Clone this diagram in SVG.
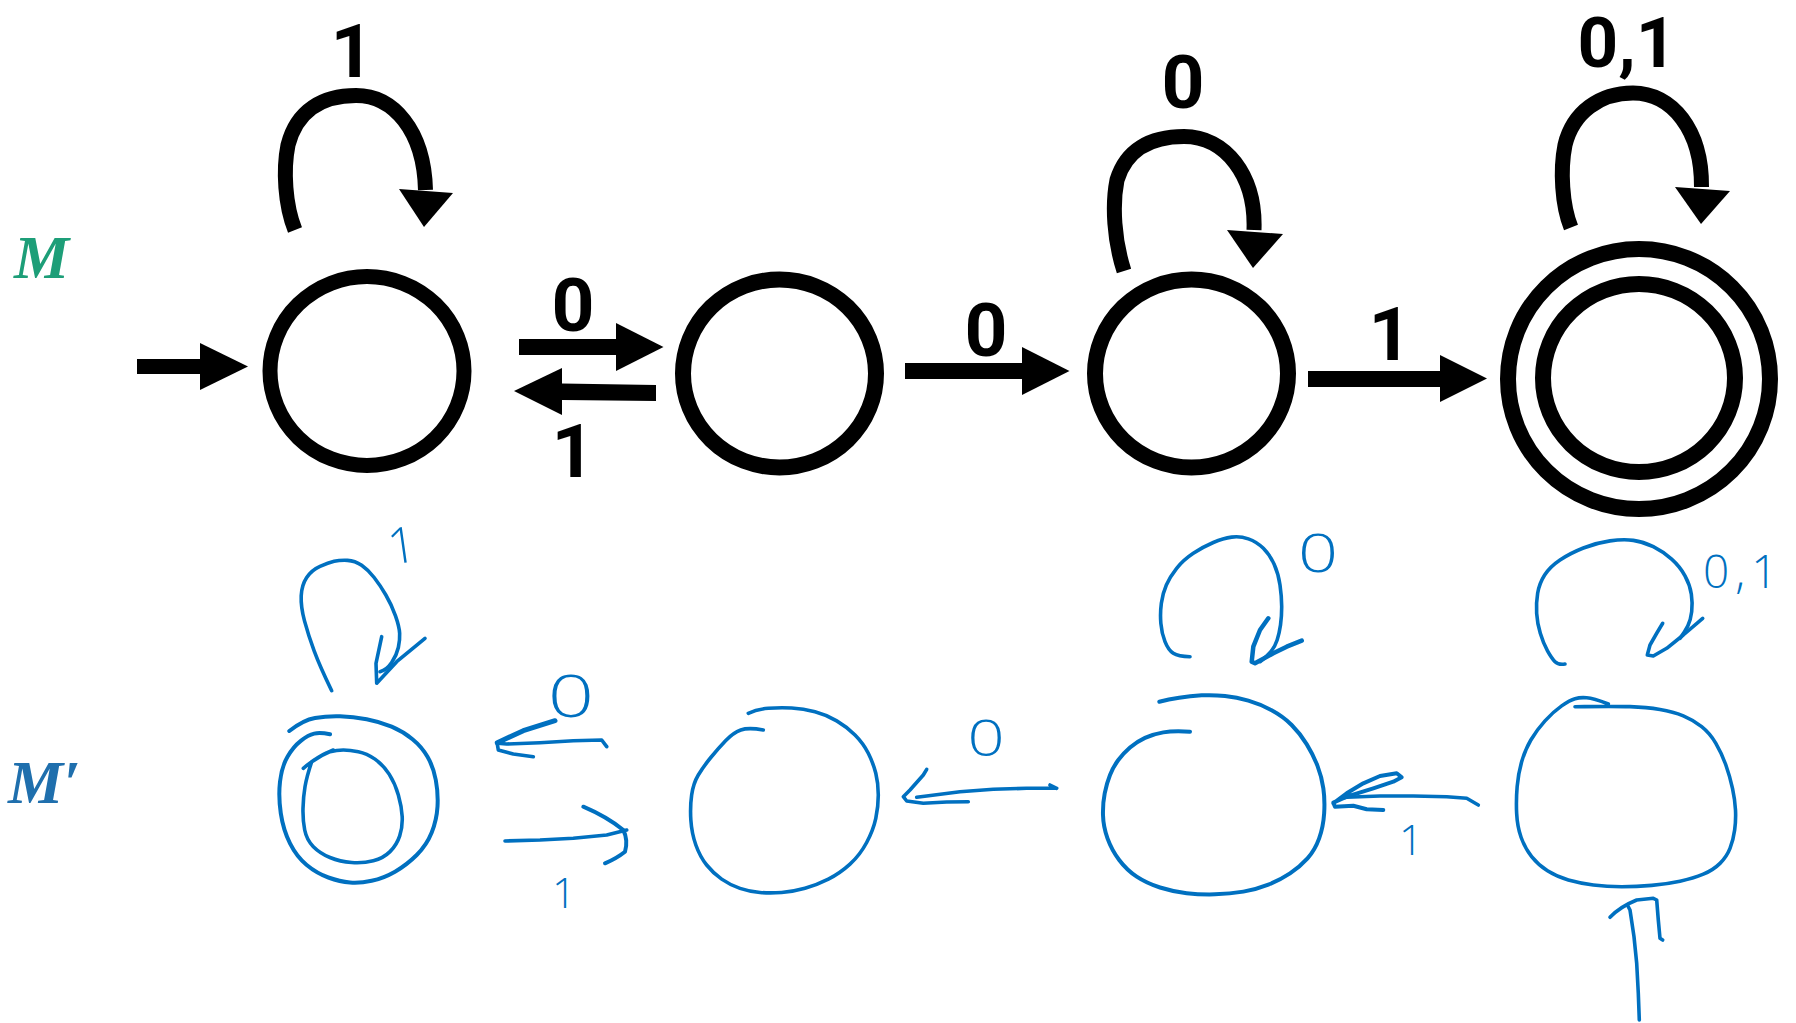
<svg xmlns="http://www.w3.org/2000/svg" width="1796" height="1023" viewBox="0 0 1796 1023">
<defs>
<style>
.st{fill:none;stroke:#000;stroke-width:15}
.fill{fill:#000;stroke:none}
.lbl{font-size:75px;fill:#000}
.ink{fill:none;stroke:#0070C0;stroke-width:3.6;stroke-linecap:round;stroke-linejoin:round}
.inkt{fill:#0070C0}
.name{font-style:italic;font-weight:bold;font-size:62px}
</style>
</defs>
<rect width="1796" height="1023" fill="#fff"/>

<!-- titles -->
<text class="name" font-family="Liberation Serif, Times New Roman, serif" x="14" y="278" fill="#1d9e78">M</text>
<text class="name" font-family="Liberation Serif, Times New Roman, serif" x="8" y="803" fill="#1f6fad">M′</text>

<!-- ===== M (top) nodes ===== -->
<g id="m-q0"><ellipse class="st" cx="367" cy="371" rx="97" ry="94.5"/></g>
<g id="m-q1"><ellipse class="st" cx="779.5" cy="373.5" rx="96.5" ry="94" style="stroke-width:16"/></g>
<g id="m-q2"><ellipse class="st" cx="1191.5" cy="373.5" rx="96.5" ry="94" style="stroke-width:16"/></g>
<g id="m-q3">
<ellipse class="st" cx="1639" cy="379" rx="131" ry="130" style="stroke-width:16"/>
<ellipse class="st" cx="1639" cy="378" rx="96" ry="94" style="stroke-width:16"/>
</g>

<!-- ===== M connectors ===== -->
<g id="m-edges" font-family="Roboto, Noto Sans, sans-serif" font-weight="700">
<g id="m-start">
<rect class="fill" x="137" y="359" width="63" height="15"/>
<polygon class="fill" points="200,343 248,366.5 200,390"/>
</g>
<g id="m-loop0">
<path class="st" d="M295,230 C285,205 283,170 288,145 C297,110 323,95.5 356,95.5 C393,95.5 424,130 425.5,190"/>
<polygon class="fill" points="399,189 453,193 424,227"/>
<text class="lbl" x="352" y="77" text-anchor="middle">1</text>
</g>
<g id="m-e01">
<rect class="fill" x="519" y="339" width="97" height="16"/>
<polygon class="fill" points="616,323 663.5,347 616,371"/>
<text class="lbl" x="573" y="331" text-anchor="middle">0</text>
</g>
<g id="m-e10">
<polygon class="fill" points="562,383.5 656,385 656,401 562,400"/>
<polygon class="fill" points="562,368 514,391 562,415"/>
<text class="lbl" x="573" y="477" text-anchor="middle">1</text>
</g>
<g id="m-e12">
<rect class="fill" x="905" y="363" width="117" height="16"/>
<polygon class="fill" points="1022,347 1069.5,371 1022,395"/>
<text class="lbl" x="986" y="356" text-anchor="middle">0</text>
</g>
<g id="m-loop2">
<path class="st" d="M1124,271 C1114,240 1112,205 1117,180 C1126,150 1150,136.5 1184,136.5 C1225,136.5 1256,175 1254,230"/>
<polygon class="fill" points="1227,230 1283,234 1253,268"/>
<text class="lbl" x="1183" y="108" text-anchor="middle">0</text>
</g>
<g id="m-e23">
<rect class="fill" x="1308" y="371" width="132" height="16"/>
<polygon class="fill" points="1440,355 1487,378.5 1440,402"/>
<text class="lbl" x="1390" y="360" text-anchor="middle">1</text>
</g>
<g id="m-loop3">
<path class="st" d="M1571,227.5 C1562,205 1560,170 1565,145 C1573,112 1600,93 1633,93 C1672,93 1702,130 1701.5,187"/>
<polygon class="fill" points="1675,187 1730,191 1701,224"/>
<text class="lbl" x="1627" y="67" text-anchor="middle" style="font-size:71px">0,1</text>
</g>
</g>

<!-- ===== M' (bottom, hand-drawn) nodes ===== -->
<g id="mp-q0">
<path class="ink" style="stroke-width:4" d="M289.3,731 Q303.3,720 315,718 Q326.7,716 340,716.35 Q353.3,716.7 366.65,719.2 Q380,721.7 391.65,726.7 Q403.3,731.7 412.5,739.2 Q421.7,746.7 427.5,756.7 Q433.3,766.7 435.8,780 Q438.3,793.3 437.5,806.65 Q436.7,820 431.7,832.5 Q426.7,845 416.7,855 Q406.7,865 395,871.65 Q383.3,878.3 371.65,880.8 Q360,883.3 350,882.5 Q340,881.7 328.35,877.5 Q316.7,873.3 306.7,865 Q296.7,856.7 290,843.35 Q283.3,830 280.8,813.35 Q278.3,796.7 280,781.7 Q281.7,766.7 287.5,756.7 Q293.3,746.7 300.8,740.85 Q308.3,735 314.15,733.65 Q320,732.3 330,734.3"/>
<path class="ink" d="M303.3,768.3 Q316.7,756.7 333.3,750 M311.7,761.7 Q323.3,753.3 330,751.65 Q336.7,750 343.35,750 Q350,750 358.35,751.65 Q366.7,753.3 375,759.15 Q383.3,765 389.15,774.15 Q395,783.3 398.35,795 Q401.7,806.7 402.2,816.7 Q402.7,826.7 399.7,835.85 Q396.7,845 390,851.65 Q383.3,858.3 373.3,860.8 Q363.3,863.3 351.65,862.5 Q340,861.7 330,857.5 Q320,853.3 313.35,846.65 Q306.7,840 304.7,830 Q302.7,820 303,808.35 Q303.3,796.7 305,786.7 Q306.7,776.7 311.7,761.7"/>
</g>
<g id="mp-q1">
<path class="ink" d="M748.3,713.3 Q756.7,709.3 768.35,708.3 Q780,707.3 791.65,708 Q803.3,708.7 815,711.85 Q826.7,715 836.7,720.85 Q846.7,726.7 855,735 Q863.3,743.3 868.3,753.3 Q873.3,763.3 875.8,773.3 Q878.3,783.3 878.3,795 Q878.3,806.7 875.8,818.35 Q873.3,830 866.65,842.5 Q860,855 850,864.15 Q840,873.3 828.35,879.15 Q816.7,885 805,888.35 Q793.3,891.7 781.65,892.5 Q770,893.3 760,892.5 Q750,891.7 740,888.35 Q730,885 721.65,879.15 Q713.3,873.3 706.65,865 Q700,856.7 695.85,845 Q691.7,833.3 690.85,820 Q690,806.7 691.65,795 Q693.3,783.3 698.3,775 Q703.3,766.7 710.8,757.5 Q718.3,748.3 725.8,740.5 Q733.3,732.7 740.8,730 Q748.3,727.3 763.3,730"/>
</g>
<g id="mp-q2">
<path class="ink" style="stroke-width:4" d="M1159.3,701.7 Q1168.3,699.3 1179.15,697.65 Q1190,696 1201.65,695.35 Q1213.3,694.7 1225,696 Q1236.7,697.3 1248.35,700.65 Q1260,704 1271.65,710.35 Q1283.3,716.7 1291.65,725 Q1300,733.3 1306.65,744.15 Q1313.3,755 1317.5,765.85 Q1321.7,776.7 1323.35,788.35 Q1325,800 1324.15,813.35 Q1323.3,826.7 1319.15,838.35 Q1315,850 1307.5,858.35 Q1300,866.7 1290,873.35 Q1280,880 1268.35,884.65 Q1256.7,889.3 1243.35,891.65 Q1230,894 1215,894.35 Q1200,894.7 1186.65,893.2 Q1173.3,891.7 1160,887.5 Q1146.7,883.3 1136.7,876.65 Q1126.7,870 1119.2,860 Q1111.7,850 1107.5,838.35 Q1103.3,826.7 1103,815 Q1102.7,803.3 1104.7,793.3 Q1106.7,783.3 1110,775 Q1113.3,766.7 1118.3,760 Q1123.3,753.3 1130,747.5 Q1136.7,741.7 1145,737.85 Q1153.3,734 1163.3,732.35 Q1173.3,730.7 1190,731.7"/>
</g>
<g id="mp-q3">
<path class="ink" d="M1575,706.7 Q1613.3,706 1630,706.65 Q1646.7,707.3 1660,709.5 Q1673.3,711.7 1683.3,715.85 Q1693.3,720 1701.65,726.65 Q1710,733.3 1715.85,743.3 Q1721.7,753.3 1725.85,765 Q1730,776.7 1732.5,788.35 Q1735,800 1735.5,810 Q1736,820 1734.65,830 Q1733.3,840 1730,848.35 Q1726.7,856.7 1720,863.35 Q1713.3,870 1703.3,874.15 Q1693.3,878.3 1680,881.15 Q1666.7,884 1651.7,885.35 Q1636.7,886.7 1621.7,886.7 Q1606.7,886.7 1593.35,885 Q1580,883.3 1568.35,880 Q1556.7,876.7 1547.5,870.85 Q1538.3,865 1531.65,856.65 Q1525,848.3 1521.15,837.5 Q1517.3,826.7 1516.65,813.35 Q1516,800 1517.15,786.65 Q1518.3,773.3 1521.65,761.65 Q1525,750 1530.85,740 Q1536.7,730 1545,720.85 Q1553.3,711.7 1561.65,705.85 Q1570,700 1575,698.65 Q1580,697.3 1586.65,697.8 Q1593.3,698.3 1608.3,704"/>
</g>

<!-- ===== M' connectors ===== -->
<g id="mp-edges" font-family="Open Sans, DejaVu Sans, sans-serif" font-weight="300">
<g id="mp-loop0">
<path class="ink" d="M331.7,690.7 Q320,666.7 314.15,650.85 Q308.3,635 304.5,620.85 Q300.7,606.7 301.2,595.85 Q301.7,585 306.7,577.5 Q311.7,570 320,566.35 Q328.3,562.7 334.15,561.35 Q340,560 347.5,560.35 Q355,560.7 361.65,565.35 Q368.3,570 374.15,577.5 Q380,585 385.85,595 Q391.7,605 395.5,615.85 Q399.3,626.7 399.65,633.35 Q400,640 398.35,647.5 Q396.7,655 391.7,662.5 Q386.7,670 380,671.7"/>
<path class="ink" d="M381.7,636.7 L376,663.3 L376.7,683.3 L396.7,661.7 L425,638.3"/>
<text class="inkt" x="402" y="563" font-size="50" text-anchor="middle" transform="rotate(-8 402 545)">1</text>
</g>
<g id="mp-e10">
<path class="ink" d="M606.7,746.7 L601.7,740 L573.3,740.7 L540,742.7 L506.7,744 L497.3,743.3"/>
<path class="ink" d="M497.3,744 L498.3,750 L513.3,754 L533.3,756.7"/>
<path class="ink" d="M497.3,742.7 L523.3,730.7 L555,720.7" style="stroke-width:5"/>
<text class="inkt" transform="translate(571 717) scale(1.4 1)" font-size="58" text-anchor="middle">0</text>
</g>
<g id="mp-e01">
<path class="ink" d="M505,841 L540,840 L573.3,838.3 L606.7,835 L626.7,830"/>
<path class="ink" d="M583.3,806.7 Q606.7,816.7 623.3,830 Q628.3,840 625,851.7 Q616.7,858.3 605,863.3" style="stroke-width:4"/>
<text class="inkt" x="564" y="908" font-size="42" text-anchor="middle">1</text>
</g>
<g id="mp-e21">
<path class="ink" d="M1056.7,788.3 L1050,785 M1056.7,788.3 L1026.7,788.3 L993.3,789.3 L960,791.7 L926.7,796 L916.7,797.3"/>
<path class="ink" d="M926.7,769.3 L923.3,775 L910,790 L903.3,796.7 L906.7,801 L923.3,803.3 L946.7,802 L968.3,801.7"/>
<text class="inkt" transform="translate(986 756) scale(1.3 1)" font-size="50" text-anchor="middle">0</text>
</g>
<g id="mp-loop2">
<path class="ink" d="M1190,656.7 Q1178.3,656.7 1173.3,653.35 Q1168.3,650 1165,641.65 Q1161.7,633.3 1160.85,623.3 Q1160,613.3 1161.35,603.3 Q1162.7,593.3 1166.35,585 Q1170,576.7 1176.65,568.35 Q1183.3,560 1193.3,553.35 Q1203.3,546.7 1213.3,542.5 Q1223.3,538.3 1231.65,537.15 Q1240,536 1248.35,538.85 Q1256.7,541.7 1263.35,548.35 Q1270,555 1274.15,564.15 Q1278.3,573.3 1280,585 Q1281.7,596.7 1281.7,606.7 Q1281.7,616.7 1280.5,625 Q1279.3,633.3 1277.15,640 Q1275,646.7 1270.85,651.7 Q1266.7,656.7 1260,661.7"/>
<path class="ink" d="M1268.3,618.3 L1260,630 L1253.3,646.7 L1251.7,661.7 L1255,663.3 L1273.3,653.3 L1286.7,646.7 L1301.7,640.7" style="stroke-width:4.5"/>
<text class="inkt" transform="translate(1318 572) scale(1.3 1)" font-size="54" text-anchor="middle">0</text>
</g>
<g id="mp-e32">
<path class="ink" d="M1478.3,805 L1466.7,798.3 L1446.7,796.7 L1413.3,796 L1380,796 L1346.7,797.3 L1341.7,798.3"/>
<path class="ink" d="M1333.3,803.3 L1346.7,793.3 L1363.3,783.3 L1380,776 L1396.7,773.3 L1401.7,777.3 L1393.3,781.7 L1373.3,788.3 L1346.7,796.7 L1333.3,802.7 L1335,806.7 L1353.3,805.7 L1366.7,809.3 L1383.3,810" style="stroke-width:4"/>
<text class="inkt" x="1411" y="855" font-size="42" text-anchor="middle">1</text>
</g>
<g id="mp-loop3">
<path class="ink" d="M1565,664 Q1558.3,665 1555,661.65 Q1551.7,658.3 1547.5,650.8 Q1543.3,643.3 1540.3,633.3 Q1537.3,623.3 1536.65,613.3 Q1536,603.3 1537.65,593.3 Q1539.3,583.3 1544.65,575 Q1550,566.7 1560,560 Q1570,553.3 1583.35,548 Q1596.7,542.7 1610,540.85 Q1623.3,539 1633.3,540.35 Q1643.3,541.7 1653.3,546.7 Q1663.3,551.7 1671.65,559.2 Q1680,566.7 1685,575.85 Q1690,585 1691.35,594.15 Q1692.7,603.3 1691.7,611.65 Q1690.7,620 1687.85,625.85 Q1685,631.7 1680,638.3"/>
<path class="ink" d="M1662.7,623.3 L1656.7,633.3 L1650,645 L1647.3,655 L1653.3,656 L1666.7,648.3 L1683.3,635 L1702.7,618.3"/>
<text class="inkt" x="1703" y="588" font-size="46" letter-spacing="6">0,1</text>
</g>
<g id="mp-start">
<path class="ink" d="M1639.3,1020 L1638.3,993.3 L1636.7,963.3 L1634,936.7 L1630,910 L1628.3,906.7"/>
<path class="ink" d="M1610,917.3 Q1620,906.7 1636.7,900 L1653.3,898.3 L1656.7,900 L1658.3,920 L1660,938.3 L1662.7,940"/>
</g>
</g>
</svg>
